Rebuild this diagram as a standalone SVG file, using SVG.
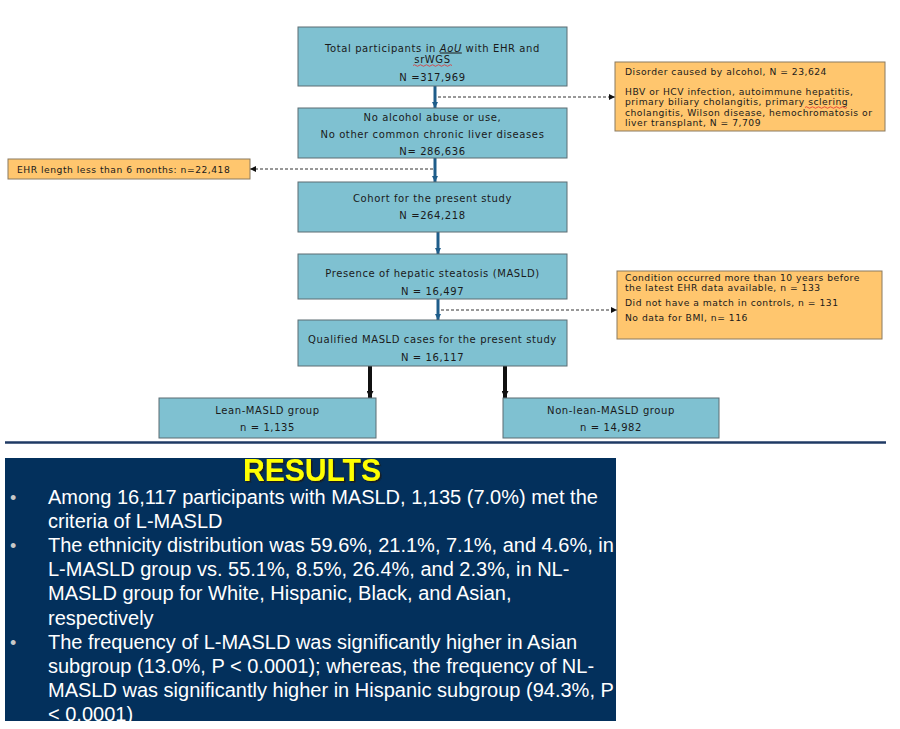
<svg xmlns="http://www.w3.org/2000/svg" width="900" height="729" viewBox="0 0 900 729">
<defs>
<style>
.box{fill:#7fc1d1;stroke:#5d6d73;stroke-width:1}
.obox{fill:#ffc66e;stroke:#8a7a60;stroke-width:1}
.t{font-family:"DejaVu Sans","Liberation Sans",sans-serif;font-size:10px;letter-spacing:0.6px;fill:#1a1a1a}
.c{text-anchor:middle}
.ot{font-family:"DejaVu Sans","Liberation Sans",sans-serif;font-size:9.2px;letter-spacing:0.5px;fill:#1a1a1a}
.blue{stroke:#1f5d8a;stroke-width:3;fill:none}
.blk{stroke:#111111;stroke-width:4;fill:none}
.dash{stroke:#333333;stroke-width:1;stroke-dasharray:3 2;fill:none}
.res{font-family:"Liberation Sans",Arial,sans-serif;font-size:20px;fill:#ffffff}
.bul{font-family:"Liberation Sans",Arial,sans-serif;font-size:18px;fill:#c8c8c8}
.sq{stroke:#e03030;stroke-width:0.8;fill:none}
</style>
<filter id="shadow" x="-10%" y="-20%" width="120%" height="150%"><feDropShadow dx="1.5" dy="1.5" stdDeviation="0.4" flood-color="#1a1a1a" flood-opacity="1"/></filter>
<marker id="ab" viewBox="0 0 10 10" refX="10" refY="5" markerWidth="7" markerHeight="6" markerUnits="userSpaceOnUse" orient="auto"><path d="M0,0 L10,5 L0,10 z" fill="#1f5d8a"/></marker>
<marker id="ak" viewBox="0 0 10 10" refX="10" refY="5" markerWidth="8" markerHeight="7" markerUnits="userSpaceOnUse" orient="auto"><path d="M0,0 L10,5 L0,10 z" fill="#111111"/></marker>
<marker id="ad" viewBox="0 0 10 10" refX="10" refY="5" markerWidth="8" markerHeight="6" markerUnits="userSpaceOnUse" orient="auto"><path d="M0,0 L10,5 L0,10 z" fill="#111111"/></marker>
</defs>
<rect width="900" height="729" fill="#ffffff"/>

<g id="connectors">
<line class="blue" x1="435" y1="86" x2="435" y2="108" marker-end="url(#ab)"/>
<line class="blue" x1="435" y1="158" x2="435" y2="182" marker-end="url(#ab)"/>
<line class="blue" x1="438" y1="232" x2="438" y2="254" marker-end="url(#ab)"/>
<line class="blue" x1="438" y1="299" x2="438" y2="320" marker-end="url(#ab)"/>
<line class="dash" x1="438" y1="97" x2="615" y2="97" marker-end="url(#ad)"/>
<line class="dash" x1="433" y1="169" x2="250" y2="169" marker-end="url(#ad)"/>
<line class="dash" x1="441" y1="310" x2="617" y2="310" marker-end="url(#ad)"/>
<line class="blk" x1="370" y1="366" x2="370" y2="398" marker-end="url(#ak)"/>
<line class="blk" x1="505" y1="366" x2="505" y2="398" marker-end="url(#ak)"/>
</g>

<g id="n-total">
<rect class="box" x="298" y="27" width="269" height="59"/>
<text class="t c" x="432.5" y="51.5">Total participants in <tspan font-style="italic" text-decoration="underline">AoU</tspan> with EHR and</text>
<text class="t c" x="432.5" y="62.5">srWGS</text>
<path class="sq" d="M413,65.5 q1.5,-1.5 3,0 t3,0 t3,0 t3,0 t3,0 t3,0 t3,0 t3,0 t3,0 t3,0 t3,0 t3,0 t3,0"/>
<text class="t c" x="432.5" y="80.5">N =317,969</text>
</g>

<g id="n-exclusion1">
<rect class="obox" x="615" y="62" width="270" height="69"/>
<text class="ot" x="625" y="74.5">Disorder caused by alcohol, N = 23,624</text>
<text class="ot" x="625" y="95">HBV or HCV infection, autoimmune hepatitis,</text>
<text class="ot" x="625" y="105.3">primary biliary cholangitis, primary sclering</text>
<path class="sq" d="M805,107.5 q1.5,-1.5 3,0 t3,0 t3,0 t3,0 t3,0 t3,0 t3,0 t3,0 t3,0 t3,0 t3,0 t3,0 t3,0 t3,0"/>
<text class="ot" x="625" y="115.6">cholangitis, Wilson disease, hemochromatosis or</text>
<text class="ot" x="625" y="125.9">liver transplant, N = 7,709</text>
</g>

<g id="n-noalcohol">
<rect class="box" x="298" y="108" width="269" height="50"/>
<text class="t c" x="432.5" y="120.5">No alcohol abuse or use,</text>
<text class="t c" x="432.5" y="137.5">No other common chronic liver diseases</text>
<text class="t c" x="432.5" y="154.5">N= 286,636</text>
</g>

<g id="n-ehr">
<rect class="obox" x="8" y="159" width="242" height="20"/>
<text class="ot" x="17" y="172.5">EHR length less than 6 months: n=22,418</text>
</g>

<g id="n-cohort">
<rect class="box" x="298" y="182" width="269" height="50"/>
<text class="t c" x="432.5" y="202">Cohort for the present study</text>
<text class="t c" x="432.5" y="219">N =264,218</text>
</g>

<g id="n-presence">
<rect class="box" x="298" y="254" width="269" height="45"/>
<text class="t c" x="432.5" y="277">Presence of hepatic steatosis (MASLD)</text>
<text class="t c" x="432.5" y="295">N = 16,497</text>
</g>

<g id="n-exclusion2">
<rect class="obox" x="617" y="271" width="265" height="68"/>
<text class="ot" x="625" y="281">Condition occurred more than 10 years before</text>
<text class="ot" x="625" y="291.3">the latest EHR data available, n = 133</text>
<text class="ot" x="625" y="306">Did not have a match in controls, n = 131</text>
<text class="ot" x="625" y="321">No data for BMI, n= 116</text>
</g>

<g id="n-qualified">
<rect class="box" x="298" y="320" width="269" height="46"/>
<text class="t c" x="432.5" y="343">Qualified MASLD cases for the present study</text>
<text class="t c" x="432.5" y="361">N = 16,117</text>
</g>

<g id="n-lean">
<rect class="box" x="159" y="398" width="217" height="40"/>
<text class="t c" x="267.5" y="413.5">Lean-MASLD group</text>
<text class="t c" x="267.5" y="430.5">n = 1,135</text>
</g>

<g id="n-nonlean">
<rect class="box" x="503" y="398" width="216" height="40"/>
<text class="t c" x="611" y="413.5">Non-lean-MASLD group</text>
<text class="t c" x="611" y="430.5">n = 14,982</text>
</g>

<line x1="5" y1="442.5" x2="886" y2="442.5" stroke="#1f3a64" stroke-width="2.5"/>

<g id="results">
<rect x="5" y="458" width="611" height="263" fill="#03305c"/>
<text x="312" y="481" text-anchor="middle" font-family="'Liberation Sans',Arial,sans-serif" font-weight="bold" font-size="32" textLength="138" lengthAdjust="spacingAndGlyphs" fill="#ffff00" filter="url(#shadow)">RESULTS</text>
<text class="bul" x="10" y="503.5">•</text>
<text class="bul" x="10" y="551.9">•</text>
<text class="bul" x="10" y="648.7">•</text>
<text class="res" x="48" y="503.5">Among 16,117 participants with MASLD, 1,135 (7.0%) met the</text>
<text class="res" x="48" y="527.7">criteria of L-MASLD</text>
<text class="res" x="48" y="551.9">The ethnicity distribution was 59.6%, 21.1%, 7.1%, and 4.6%, in</text>
<text class="res" x="48" y="576.1">L-MASLD group vs. 55.1%, 8.5%, 26.4%, and 2.3%, in NL-</text>
<text class="res" x="48" y="600.3">MASLD group for White, Hispanic, Black, and Asian,</text>
<text class="res" x="48" y="624.5">respectively</text>
<text class="res" x="48" y="648.7">The frequency of L-MASLD was significantly higher in Asian</text>
<text class="res" x="48" y="672.9">subgroup (13.0%, P &lt; 0.0001); whereas, the frequency of NL-</text>
<text class="res" x="48" y="697.1">MASLD was significantly higher in Hispanic subgroup (94.3%, P</text>
<svg x="5" y="458" width="611" height="263" overflow="hidden"><text class="res" x="43" y="263.3">&lt; 0.0001)</text></svg>
</g>
</svg>
